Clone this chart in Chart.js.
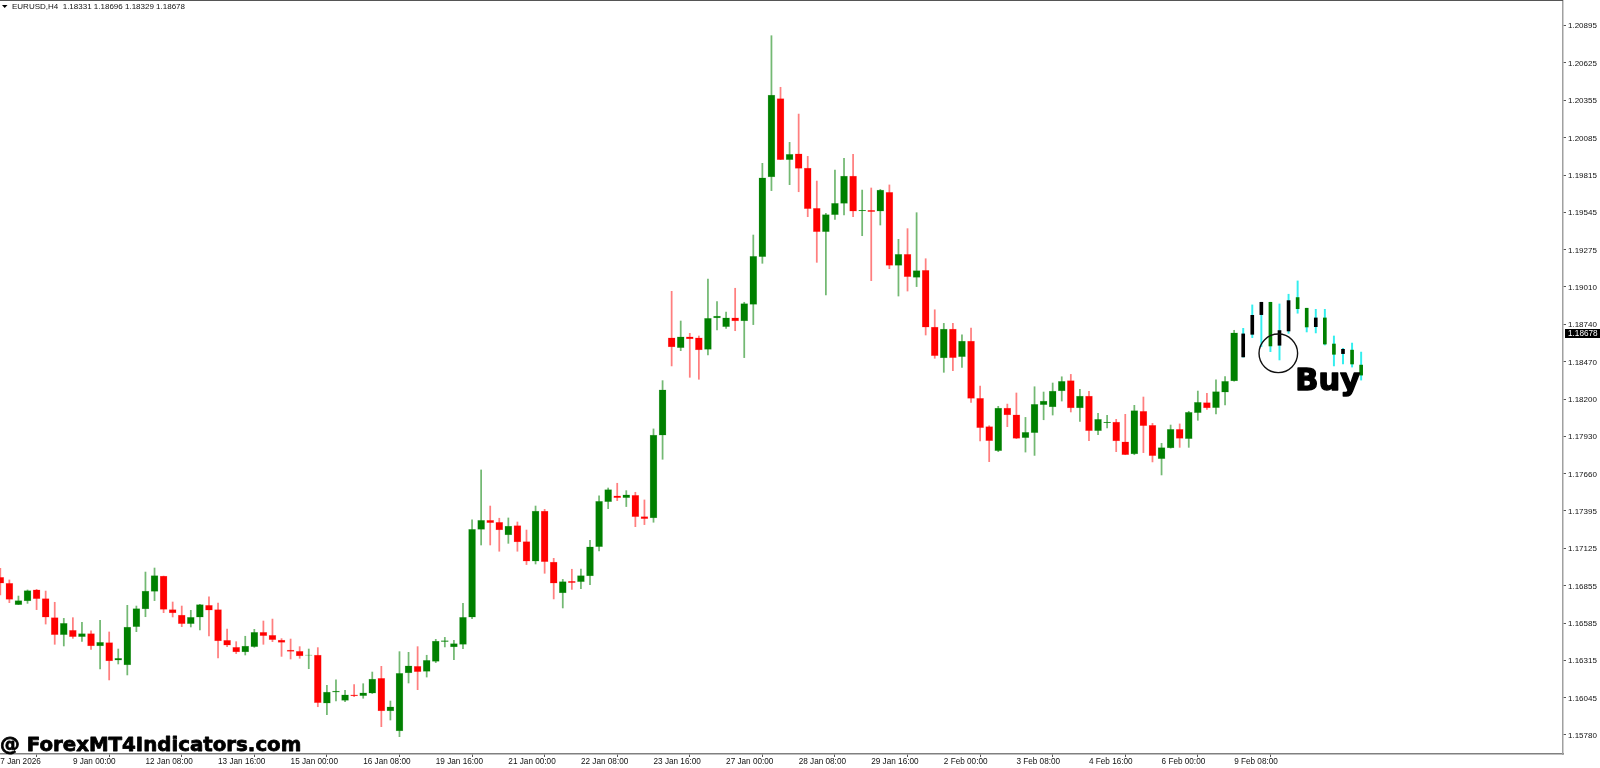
<!DOCTYPE html>
<html><head><meta charset="utf-8">
<style>html,body{margin:0;padding:0;background:#fff;overflow:hidden}canvas{display:block}</style>
<script src="https://cdn.jsdelivr.net/npm/chart.js@4"></script>
</head><body><canvas id="c" width="1600" height="768"></canvas>
<script>
const opens=[1.16915,1.16872,1.16718,1.16744,1.16824,1.16761,1.16624,1.16502,1.16533,1.16487,
1.16509,1.16420,1.16444,1.16317,1.16283,1.16559,1.16687,1.16814,1.16924,1.16682,
1.16643,1.16581,1.16627,1.16713,1.16682,1.16461,1.16410,1.16377,1.16415,1.16518,
1.16497,1.16463,1.16391,1.16381,1.16353,1.16355,1.16007,1.16086,1.16028,1.16067,
1.16062,1.16079,1.16187,1.15951,1.15807,1.16225,1.16273,1.16237,1.16309,1.16451,
1.16413,1.16432,1.16627,1.17261,1.17326,1.17312,1.17220,1.17288,1.17172,1.17031,
1.17393,1.17025,1.16802,1.16886,1.16884,1.16925,1.17136,1.17461,1.17502,1.17490,
1.17506,1.17353,1.17343,1.17939,1.18641,1.18571,1.18648,1.18641,1.18559,1.18785,
1.18722,1.18785,1.18763,1.18883,1.19227,1.19801,1.20366,1.19926,1.19969,1.19866,
1.19575,1.19407,1.19530,1.19611,1.19808,1.19556,1.19561,1.19554,1.19691,1.19164,
1.19244,1.19078,1.19128,1.18719,1.18496,1.18705,1.18506,1.18619,1.18205,1.18001,
1.17828,1.18136,1.18087,1.17922,1.17958,1.18160,1.18143,1.18258,1.18333,1.18136,
1.18222,1.17972,1.18030,1.18035,1.17891,1.17804,1.18112,1.18011,1.17771,1.17848,
1.17982,1.17915,1.18102,1.18174,1.18138,1.18249,1.18331,
1.18670,1.18804,1.18898,1.18583,1.18694,1.18910,1.18852,1.18720,1.18785,1.18597,1.18523,1.18559,1.18453,1.18373];
const closes=[1.16872,1.16756,1.16747,1.16819,1.16761,1.16627,1.16502,1.16583,1.16487,1.16509,
1.16420,1.16446,1.16312,1.16331,1.16557,1.16689,1.16816,1.16927,1.16684,1.16658,
1.16581,1.16627,1.16718,1.16679,1.16456,1.16425,1.16377,1.16420,1.16518,1.16494,
1.16466,1.16446,1.16381,1.16348,1.16355,1.16011,1.16088,1.16095,1.16067,1.16059,
1.16083,1.16182,1.15951,1.15982,1.16223,1.16276,1.16235,1.16317,1.16456,1.16458,
1.16437,1.16627,1.17261,1.17326,1.17309,1.17256,1.17285,1.17170,1.17031,1.17393,
1.17028,1.16872,1.16884,1.16876,1.16927,1.17134,1.17463,1.17547,1.17490,1.17509,
1.17353,1.17338,1.17941,1.18266,1.18576,1.18648,1.18633,1.18554,1.18782,1.18799,
1.18785,1.18763,1.18888,1.19229,1.19796,1.20392,1.19926,1.19965,1.19864,1.19573,
1.19407,1.19530,1.19611,1.19808,1.19554,1.19561,1.19551,1.19707,1.19164,1.19244,
1.19083,1.19126,1.18719,1.18513,1.18705,1.18498,1.18619,1.18205,1.17994,1.17900,
1.18136,1.18085,1.17917,1.17960,1.18162,1.18186,1.18258,1.18328,1.18136,1.18222,
1.17972,1.18054,1.18035,1.17898,1.17799,1.18117,1.18009,1.17792,1.17850,1.17982,
1.17917,1.18105,1.18177,1.18136,1.18254,1.18328,1.18678,
1.18504,1.18667,1.18809,1.18898,1.18588,1.18691,1.18932,1.18855,1.18722,1.18785,1.18597,1.18528,1.18553,1.18445];
const highs=[1.16980,1.16896,1.16780,1.16824,1.16828,1.16816,1.16735,1.16619,1.16624,1.16590,
1.16530,1.16605,1.16521,1.16398,1.16713,1.16708,1.16953,1.16982,1.16924,1.16737,
1.16708,1.16677,1.16720,1.16775,1.16730,1.16542,1.16451,1.16490,1.16540,1.16600,
1.16614,1.16473,1.16470,1.16415,1.16398,1.16408,1.16136,1.16175,1.16100,1.16141,
1.16148,1.16232,1.16273,1.16023,1.16379,1.16374,1.16415,1.16353,1.16468,1.16482,
1.16461,1.16727,1.17329,1.17689,1.17429,1.17341,1.17343,1.17314,1.17256,1.17429,
1.17405,1.17052,1.16900,1.16973,1.16975,1.17182,1.17502,1.17559,1.17593,1.17540,
1.17528,1.17473,1.17985,1.18333,1.18977,1.18763,1.18674,1.18655,1.19066,1.18903,
1.18828,1.18999,1.18898,1.19383,1.19900,1.20820,1.20448,1.20051,1.20255,1.19950,
1.19772,1.19539,1.19852,1.19936,1.19965,1.19707,1.19722,1.19712,1.19744,1.19352,
1.19429,1.19544,1.19212,1.18844,1.18746,1.18746,1.18664,1.18712,1.18294,1.18008,
1.18148,1.18164,1.18244,1.18068,1.18289,1.18251,1.18316,1.18361,1.18378,1.18270,
1.18256,1.18097,1.18083,1.18054,1.18090,1.18155,1.18215,1.18025,1.17881,1.18013,
1.18021,1.18112,1.18258,1.18242,1.18338,1.18362,1.18696,
1.18710,1.18879,1.18898,1.18898,1.18886,1.18956,1.19052,1.18855,1.18847,1.18847,1.18655,1.18566,1.18604,1.18539];
const lows=[1.16788,1.16732,1.16718,1.16727,1.16682,1.16578,1.16432,1.16420,1.16475,1.16453,
1.16396,1.16254,1.16175,1.16290,1.16211,1.16523,1.16631,1.16747,1.16660,1.16629,
1.16559,1.16557,1.16535,1.16492,1.16333,1.16415,1.16365,1.16355,1.16410,1.16432,
1.16451,1.16345,1.16326,1.16331,1.16256,1.15982,1.15925,1.16023,1.16019,1.16055,
1.16043,1.16077,1.15838,1.15886,1.15766,1.16153,1.16105,1.16196,1.16300,1.16413,
1.16321,1.16401,1.16617,1.17148,1.17148,1.17103,1.17160,1.17103,1.17007,1.17011,
1.16944,1.16759,1.16694,1.16828,1.16833,1.16862,1.17105,1.17410,1.17468,1.17425,
1.17280,1.17295,1.17312,1.17766,1.18439,1.18549,1.18357,1.18343,1.18518,1.18698,
1.18710,1.18693,1.18499,1.18737,1.19179,1.19703,1.19926,1.19746,1.19695,1.19515,
1.19186,1.18951,1.19496,1.19527,1.19515,1.19378,1.19054,1.19455,1.19140,1.18943,
1.18979,1.19011,1.18662,1.18494,1.18393,1.18405,1.18429,1.18176,1.17898,1.17749,
1.17821,1.18001,1.17915,1.17818,1.17794,1.18051,1.18085,1.18186,1.18107,1.18039,
1.17900,1.17944,1.17992,1.17821,1.17799,1.17799,1.17814,1.17747,1.17653,1.17846,
1.17852,1.17852,1.18047,1.18126,1.18093,1.18158,1.18329,
1.18502,1.18643,1.18578,1.18542,1.18482,1.18674,1.18819,1.18684,1.18677,1.18590,1.18439,1.18453,1.18431,1.18337];
const priceTicks=[1.20895,1.20625,1.20355,1.20085,1.19815,1.19545,1.19275,1.19010,1.18740,1.18470,1.18200,1.17930,1.17660,1.17395,1.17125,1.16855,1.16585,1.16315,1.16045,1.15780];
const timeTickBars=[0,8,16,24,32,40,48,56,64,72,80,88,96,104,112,120,128,136];
const timeTickLabels=['7 Jan 2026','9 Jan 00:00','12 Jan 08:00','13 Jan 16:00','15 Jan 00:00','16 Jan 08:00','19 Jan 16:00','21 Jan 00:00','22 Jan 08:00','23 Jan 16:00','27 Jan 00:00','28 Jan 08:00','29 Jan 16:00','2 Feb 00:00','3 Feb 08:00','4 Feb 16:00','6 Feb 00:00','9 Feb 08:00'];
const headerText='EURUSD,H4  1.18331 1.18696 1.18329 1.18678';
const watermark='@ ForexMT4Indicators.com';
const signalLabel='Buy';
const signalBar=140.87, signalPrice=1.18530;
const lastPrice=1.18678;
const firstSignalBar=137;

const X_MIN=-0.033, X_MAX=172.25, Y_MIN=1.156411, Y_MAX=1.210702;
const bars=opens.map((o,i)=>i);
const regular=bars.filter(i=>i<firstSignalBar), painted=bars.filter(i=>i>=firstSignalBar);
const body=i=>({x:i,y:[Math.min(opens[i],closes[i]),Math.max(opens[i],closes[i])]});
const wick=i=>({x:i,y:[lows[i],highs[i]]});
const up=i=>closes[i]>=opens[i];
const base={type:'bar',grouped:false,borderWidth:0,borderSkipped:false};

const overlay={id:'overlay',afterDraw(ch){
  const c=ch.ctx,ys=ch.scales.y,xs=ch.scales.x,a=ch.chartArea;
  c.save();
  c.fillStyle='#555';c.fillRect(0,0,a.right,1);
  c.fillStyle='#000';c.beginPath();c.moveTo(2,5);c.lineTo(7.5,5);c.lineTo(4.7,8);c.closePath();c.fill();
  c.fillStyle='#111';c.font='8px "Liberation Sans"';c.textAlign='left';c.textBaseline='middle';
  c.fillText(headerText,12,7);
  const py=ys.getPixelForValue(lastPrice)+0.7;
  c.fillStyle='#000';c.fillRect(1565,py-4.5,35,9);
  c.fillStyle='#fff';c.font='8.2px "Liberation Sans"';c.fillText(lastPrice.toFixed(5),1568,py+0.3);
  c.fillStyle='#000';c.strokeStyle='#000';c.textBaseline='alphabetic';c.lineJoin='round';
  c.font='bold 30.5px "DejaVu Sans"';c.lineWidth=1.4;
  const bx=xs.getPixelForValue(signalBar)+17;
  c.fillText(signalLabel,bx,390);c.strokeText(signalLabel,bx,390);
  c.font='bold 19.8px "DejaVu Sans"';c.lineWidth=0.8;
  c.fillText(watermark,0,751);c.strokeText(watermark,0,751);
  c.restore();
}};

new Chart(document.getElementById('c'),{
  data:{datasets:[
    {type:'scatter',data:[{x:signalBar,y:signalPrice}],pointRadius:19.3,pointBackgroundColor:'rgba(0,0,0,0)',pointBorderColor:'#111',pointBorderWidth:1.4,order:0},
    {...base,data:regular.map(body),barThickness:7,borderWidth:0.5,backgroundColor:regular.map(i=>up(i)?'#008000':'#ff0000'),borderColor:regular.map(i=>up(i)?'rgba(0,128,0,.4)':'rgba(255,0,0,.4)'),order:1},
    {...base,data:painted.map(body),barThickness:3,backgroundColor:painted.map(i=>up(i)?'#008000':'#000000'),order:2},
    {...base,data:regular.map(wick),barThickness:1.1,backgroundColor:regular.map(i=>up(i)?'rgba(0,128,0,.55)':'rgba(255,0,0,.5)'),order:3},
    {...base,data:painted.map(wick),barThickness:1.3,backgroundColor:'#33eeee',order:4}
  ]},
  options:{
    responsive:false,animation:false,devicePixelRatio:1,
    layout:{autoPadding:false,padding:{top:1,left:0,right:0,bottom:0}},
    plugins:{legend:{display:false},tooltip:{enabled:false}},
    scales:{
      x:{type:'linear',min:X_MIN,max:X_MAX,offset:false,
        afterBuildTicks(s){s.ticks=timeTickBars.map(v=>({value:v}));},
        afterFit(s){s.height=14;s.paddingLeft=0;s.paddingRight=0;},
        grid:{drawOnChartArea:false,drawTicks:true,tickLength:3,tickColor:'#555'},
        border:{color:'#808080',width:1.5},
        ticks:{autoSkip:false,maxRotation:0,minRotation:0,align:'start',padding:0,color:'#111',font:{family:'Liberation Sans',size:8.2},
          callback(v){const k=timeTickBars.indexOf(v);return k<0?'':timeTickLabels[k];}}
      },
      y:{type:'linear',position:'right',min:Y_MIN,max:Y_MAX,
        afterBuildTicks(s){s.ticks=priceTicks.map(v=>({value:v}));},
        afterFit(s){s.width=37;s.paddingTop=0;s.paddingBottom=0;},
        grid:{drawOnChartArea:false,drawTicks:true,tickLength:3,tickColor:'#555'},
        border:{color:'#a0a0a0',width:1.5},
        ticks:{autoSkip:false,padding:2,labelOffset:0.7,color:'#111',font:{family:'Liberation Sans',size:8},
          callback(v){return v.toFixed(5);}}
      }
    }
  },
  plugins:[overlay]
});
</script></body></html>
